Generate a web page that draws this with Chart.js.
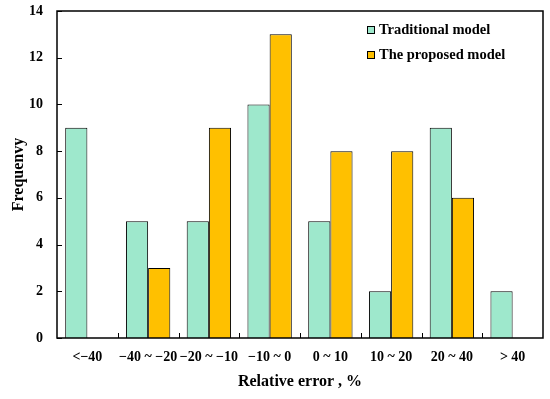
<!DOCTYPE html>
<html>
<head>
<meta charset="utf-8">
<script src="https://cdn.jsdelivr.net/npm/chart.js@4/dist/chart.umd.min.js"></script>
<style>
  body { margin: 0; background: #fff; }
</style>
</head>
<body>
<canvas id="myChart" width="550" height="399"></canvas>
<script>
var xValues = ["<\u221240", "\u221240 ~ \u221220", "\u221220 ~ \u221210", "\u221210 ~ 0", "0 ~ 10", "10 ~ 20", "20 ~ 40", "> 40"];
var traditional = [9, 5, 5, 10, 5, 2, 9, 2];
var proposed = [0, 3, 9, 13, 8, 8, 6, 0];
var yTicks = [0, 2, 4, 6, 8, 10, 12, 14];

var fontFamily = "'Liberation Serif', 'Times New Roman', serif";

// frame, inward ticks and legend drawn by hand
var framePlugin = {
  id: "frame",
  afterDraw: function(chart) {
    var ctx = chart.ctx;
    var a = chart.chartArea;
    var x = chart.scales.x;
    var y = chart.scales.y;
    ctx.save();
    ctx.strokeStyle = "#000";
    ctx.lineWidth = 1.5;
    ctx.strokeRect(a.left, a.top, a.right - a.left, a.bottom - a.top);

    ctx.lineWidth = 1;
    ctx.beginPath();
    yTicks.forEach(function(v) {
      var py = Math.round(y.getPixelForValue(v)) + 0.5;
      ctx.moveTo(a.left, py);
      ctx.lineTo(a.left + 5, py);
    });
    var half = (x.getPixelForValue(1) - x.getPixelForValue(0)) / 2;
    for (var i = 1; i < xValues.length; i++) {
      var px = Math.round(x.getPixelForValue(i) - half) + 0.5;
      ctx.moveTo(px, a.bottom);
      ctx.lineTo(px, a.bottom - 5);
    }
    ctx.stroke();

    // legend
    ctx.font = "bold 14.5px " + fontFamily;
    ctx.textBaseline = "middle";
    ctx.textAlign = "left";
    chart.data.datasets.forEach(function(ds, k) {
      var ly = 30 + k * 25;
      ctx.fillStyle = ds.backgroundColor;
      ctx.fillRect(367, ly - 4, 8, 8);
      ctx.strokeStyle = "#000";
      ctx.lineWidth = 1;
      ctx.strokeRect(367.5, ly - 3.5, 7, 7);
      ctx.fillStyle = "#000";
      ctx.fillText(ds.label, 379, ly);
    });
    ctx.restore();
  }
};

new Chart("myChart", {
  type: "bar",
  data: {
    labels: xValues,
    datasets: [{
      label: "Traditional model",
      backgroundColor: "#9ee8cc",
      borderColor: "#000",
      borderWidth: 1,
      data: traditional
    }, {
      label: "The proposed model",
      backgroundColor: "#ffc000",
      borderColor: "#000",
      borderWidth: 1,
      data: proposed
    }]
  },
  options: {
    responsive: false,
    animation: false,
    layout: { padding: { top: 11, right: 7, left: 0, bottom: 0 } },
    plugins: {
      legend: { display: false },
      tooltip: { enabled: false }
    },
    datasets: {
      bar: { categoryPercentage: 0.73, barPercentage: 1.0 }
    },
    scales: {
      x: {
        grid: { display: false },
        border: { display: false },
        ticks: {
          color: "#000",
          padding: 3,
          maxRotation: 0,
          autoSkip: false,
          font: { family: fontFamily, weight: "bold", size: 14 }
        },
        title: {
          display: true,
          text: "Relative error , %",
          color: "#000",
          padding: { top: 0, bottom: 8 },
          font: { family: fontFamily, weight: "bold", size: 16 }
        },
        afterFit: function(s) { s.height = 61; s.paddingLeft = 0; s.paddingRight = 0; }
      },
      y: {
        min: 0,
        max: 14,
        grid: { display: false },
        border: { display: false },
        afterBuildTicks: function(s) {
          s.ticks = yTicks.map(function(v) { return { value: v }; });
        },
        ticks: {
          color: "#000",
          padding: 6,
          font: { family: fontFamily, weight: "bold", size: 14 }
        },
        title: {
          display: true,
          text: "Frequenvy",
          color: "#000",
          padding: { top: 9, bottom: 0 },
          font: { family: fontFamily, weight: "bold", size: 16 }
        },
        afterFit: function(s) { s.width = 57; s.paddingTop = 0; s.paddingBottom = 0; }
      }
    }
  },
  plugins: [framePlugin]
});
</script>
</body>
</html>
